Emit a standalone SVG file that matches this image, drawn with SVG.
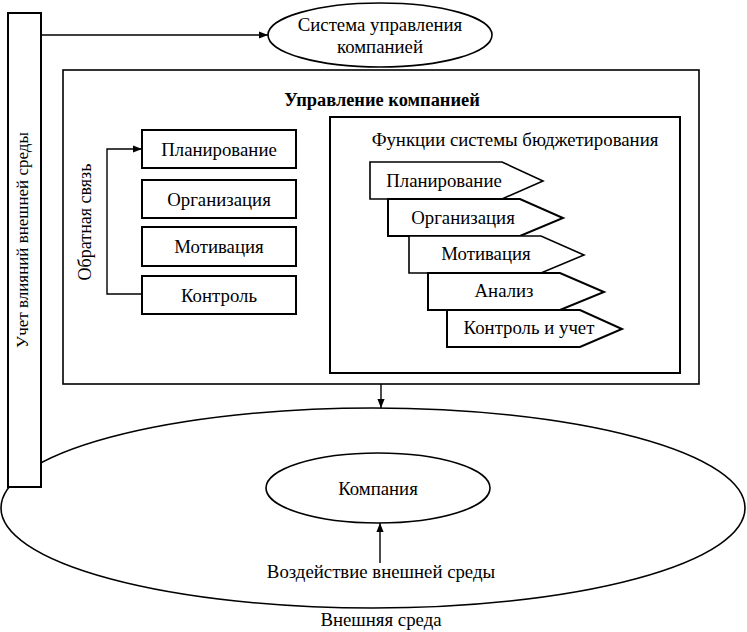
<svg xmlns="http://www.w3.org/2000/svg" width="747" height="632" viewBox="0 0 747 632">
<style>
text{font-family:'Liberation Serif','Times New Roman',serif;font-size:18.8px;fill:#000;text-anchor:middle}
.b{font-weight:bold;font-size:18.4px}
.v{font-size:17px}
.fb{font-size:18px}
.n{fill:#fff;stroke:#000;stroke-width:1.6}
.t{fill:#fff;stroke:#000;stroke-width:2}
.c{fill:none;stroke:#000;stroke-width:1.4}
</style>
<defs>
<marker id="ar" viewBox="0 0 10 10" refX="10" refY="5" markerWidth="9" markerHeight="9" markerUnits="userSpaceOnUse" orient="auto">
<path d="M0,1 L10,5 L0,9 Z" fill="#000"/>
</marker>
</defs>
<g id="env">
<ellipse class="n" cx="373" cy="508" rx="372" ry="100" stroke-width="1.2"/>
<text x="381" y="626">Внешняя среда</text>
</g>
<g id="company">
<ellipse class="n" cx="378" cy="488" rx="112" ry="35" stroke-width="1.3"/>
<text x="378" y="495">Компания</text>
</g>
<g id="env-impact">
<text x="381" y="578">Воздействие внешней среды</text>
</g>
<g id="external-bar">
<rect class="t" x="8" y="13" width="33" height="474"/>
<text class="v" transform="rotate(-90 28 240)" x="28" y="240">Учет влияний внешней среды</text>
</g>
<g id="system">
<ellipse class="n" cx="380" cy="35" rx="112" ry="32" stroke-width="1.3"/>
<text x="380" y="31">Система управления</text>
<text x="380" y="53">компанией</text>
</g>
<g id="management">
<rect class="n" x="63" y="70" width="636" height="314"/>
<text class="b" x="382" y="106">Управление компанией</text>
<text class="fb" transform="rotate(-90 91 222)" x="91" y="222">Обратная связь</text>
</g>
<g id="f-plan"><rect class="t" x="142" y="130" width="154" height="38"/><text x="219" y="156">Планирование</text></g>
<g id="f-org"><rect class="t" x="142" y="180" width="154" height="38"/><text x="219" y="206">Организация</text></g>
<g id="f-mot"><rect class="t" x="142" y="227" width="154" height="39"/><text x="219" y="253">Мотивация</text></g>
<g id="f-ctrl"><rect class="t" x="142" y="276" width="154" height="38"/><text x="219" y="302">Контроль</text></g>
<g id="budget">
<rect class="t" x="330" y="117" width="350" height="256"/>
<text x="515" y="146">Функции системы бюджетирования</text>
</g>
<g id="b-plan"><polygon class="n" points="370,162 502,162 543,181 502,199 370,199"/><text x="444" y="187">Планирование</text></g>
<g id="b-org"><polygon class="t" points="388,199 520,199 563,218 520,236 388,236"/><text x="463" y="224">Организация</text></g>
<g id="b-mot"><polygon class="n" points="409,236 541,236 584,255 541,273 409,273"/><text x="486" y="260">Мотивация</text></g>
<g id="b-an"><polygon class="t" points="428,273 560,273 604,292 560,310 428,310"/><text x="504" y="297">Анализ</text></g>
<g id="b-ctrl"><polygon class="t" points="447,310 580,310 622,329 580,347 447,347"/><text x="529" y="334">Контроль и учет</text></g>
<g id="connectors">
<line class="c" x1="41" y1="35" x2="268" y2="35" marker-end="url(#ar)"/>
<line class="c" x1="381" y1="384" x2="381" y2="408" marker-end="url(#ar)"/>
<line class="c" x1="380" y1="563" x2="380" y2="523" stroke-width="2" marker-end="url(#ar)"/>
<path class="c" d="M142,294 H107 V149 H142" stroke-width="1.8" marker-end="url(#ar)"/>
</g>
</svg>
